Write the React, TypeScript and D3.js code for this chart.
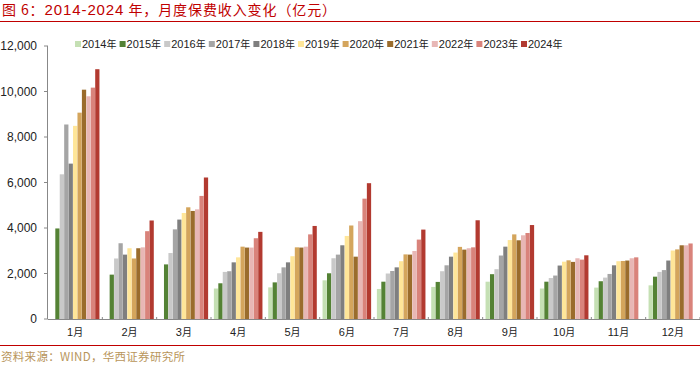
import React from 'react';
import * as d3 from 'd3';

const months = ['1月', '2月', '3月', '4月', '5月', '6月', '7月', '8月', '9月', '10月', '11月', '12月'];
const years = ['2014年', '2015年', '2016年', '2017年', '2018年', '2019年', '2020年', '2021年', '2022年', '2023年', '2024年'];
const colors = ['#c5e0b4', '#548235', '#c9c9c9', '#a5a5a5', '#7f7f7f', '#ffe699', '#d4a55c', '#9a6c2c', '#e8b7b5', '#d9837b', '#b23a30'];

// monthly premium income, one array per year (亿元); null = not reported
const v2014 = [null, null, null, 1340, 1390, 1700, 1320, 1410, 1640, 1340, 1380, 1480];
const v2015 = [3980, 1950, 2400, 1570, 1610, 2010, 1640, 1630, 1970, 1640, 1660, 1860];
const v2016 = [6360, 2660, 2900, 2070, 2010, 2670, 2000, 2100, 2190, 1800, 1820, 2070];
const v2017 = [8550, 3330, 3940, 2100, 2270, 2830, 2110, 2360, 2790, 1910, 1980, 2150];
const v2018 = [6830, 2830, 4370, 2490, 2490, 3240, 2270, 2740, 3180, 2350, 2360, 2570];
const v2019 = [8490, 3110, 4660, 2710, 2760, 3650, 2540, 2920, 3470, 2520, 2540, 3010];
const v2020 = [9070, 2660, 4910, 3180, 3150, 4110, 2840, 3170, 3720, 2580, 2550, 3060];
const v2021 = [10080, 3110, 4750, 3140, 3140, 2740, 2830, 3050, 3460, 2510, 2570, 3240];
const v2022 = [9790, 3150, 4820, 3140, 3180, 4300, 2990, 3110, 3680, 2670, 2670, 3240];
const v2023 = [10170, 3860, 5410, 3550, 3720, 5290, 3490, 3150, 3780, 2610, 2710, 3320];
const v2024 = [10980, 4330, 6220, 3830, 4090, 5970, 3930, 4340, 4130, 2800, null, null];
const series = [v2014, v2015, v2016, v2017, v2018, v2019, v2020, v2021, v2022, v2023, v2024];
const yTicks = [0, 2000, 4000, 6000, 8000, 10000, 12000];

const W = 700;
const H = 366;
const left = 48;
const right = 700;
const top = 46;
const bottom = 319;

export default function App() {
  const x0 = d3.scaleBand<string>().domain(months).range([left, right]).padding(0);
  const x1 = d3
    .scaleBand<string>()
    .domain(years)
    .range([0, x0.bandwidth()])
    .paddingInner(0.04)
    .paddingOuter(0.65);
  const y = d3.scaleLinear().domain([0, 12000]).range([bottom, top]);
  const fmt = d3.format(',');
  const num = 'Liberation Sans, Arial, sans-serif';
  const cjk = '"Noto Sans CJK SC", sans-serif';

  return (
    <svg width={W} height={H} style={{ position: 'absolute', left: 0, top: 0, background: '#fff' }}>
      <text x={2} y={15} fill="#c00000" fontSize={14} letterSpacing={0.9} fontFamily={cjk}>
        图 6：<tspan fontFamily={num} fontSize={15}>2014-2024</tspan> 年，月度保费收入变化（亿元）
      </text>
      <line x1={0} x2={W} y1={21.5} y2={21.5} stroke="#c00000" strokeWidth={1.2} />

      {/* legend */}
      {years.map((yr, i) => (
        <g key={yr} transform={`translate(${75 + i * 44.6},44)`}>
          <rect x={0} y={-3} width={6} height={6} fill={colors[i]} />
          <text x={7} y={4} fontSize={11} fontFamily={num} fill="#222">
            {yr.slice(0, 4)}
            <tspan fontFamily={cjk} fontSize={10}>年</tspan>
          </text>
        </g>
      ))}

      {/* y axis */}
      <line x1={left - 0.5} x2={left - 0.5} y1={top} y2={bottom} stroke="#888" />
      {yTicks.map((t) => (
        <g key={t}>
          <line x1={left - 4} x2={left} y1={y(t)} y2={y(t)} stroke="#888" />
          <text x={37} y={y(t) + 4} textAnchor="end" fontSize={12} fontFamily={num} fill="#222">
            {fmt(t)}
          </text>
        </g>
      ))}

      {/* bars */}
      {months.map((m, mi) => (
        <g key={m} transform={`translate(${x0(m)},0)`}>
          {series.map((s, si) => {
            const v = s[mi];
            if (v == null) return null;
            return (
              <rect
                key={si}
                x={x1(years[si])}
                y={y(v)}
                width={x1.bandwidth()}
                height={y(0) - y(v)}
                fill={colors[si]}
              />
            );
          })}
        </g>
      ))}

      {/* x axis */}
      <line x1={left} x2={right} y1={bottom + 0.5} y2={bottom + 0.5} stroke="#888" />
      {months.map((m) => (
        <line
          key={'t' + m}
          x1={(x0(m) as number) + x0.bandwidth()}
          x2={(x0(m) as number) + x0.bandwidth()}
          y1={bottom - 2}
          y2={bottom}
          stroke="#888"
        />
      ))}
      {months.map((m) => (
        <text
          key={'l' + m}
          x={(x0(m) as number) + x0.bandwidth() / 2}
          y={336}
          textAnchor="middle"
          fontSize={11}
          fontFamily={num}
          fill="#222"
        >
          {m.replace('月', '')}
          <tspan fontFamily={cjk} fontSize={10}>月</tspan>
        </text>
      ))}

      <line x1={0} x2={W} y1={345.5} y2={345.5} stroke="#c00000" strokeWidth={1} />
      <text x={1} y={361} fontSize={11.5} letterSpacing={0.3} fontFamily={cjk} fill="#b8955a">
        资料来源：WIND，华西证券研究所
      </text>
    </svg>
  );
}
